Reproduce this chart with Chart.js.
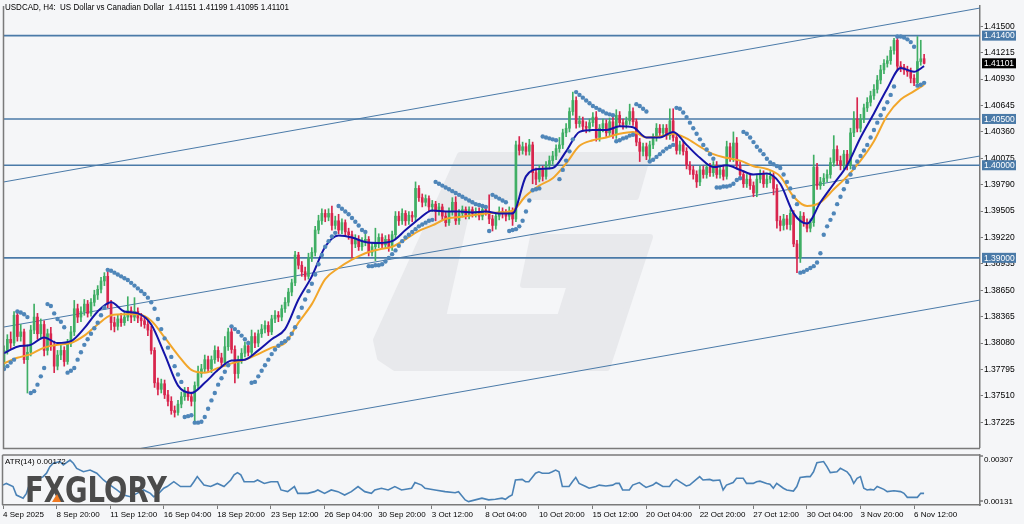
<!DOCTYPE html>
<html>
<head>
<meta charset="utf-8">
<script src="https://cdn.jsdelivr.net/npm/chart.js@4.4.0/dist/chart.umd.min.js"></script>
<style>
  html, body { margin: 0; padding: 0; background: #f5f6f8; }
  #wrap { position: relative; width: 1024px; height: 524px; overflow: hidden; }
  #main { position: absolute; left: 0; top: 0; }
  #atr { position: absolute; left: 0; top: 454px; }
</style>
</head>
<body>
<div id="wrap">
  <canvas id="main" width="1024" height="454" style="width:1024px;height:454px"></canvas>
  <canvas id="atr" width="1024" height="70" style="width:1024px;height:70px"></canvas>
</div>
<script>
// USDCAD H4 candles, 4 Sep - 6 Nov 2025
const opens = [
  1.3786,1.3800,1.3812,1.3808,1.3838,1.3815,1.3820,1.3790,1.3798,1.3822,
  1.3836,1.3818,1.3828,1.3800,1.3818,1.3805,1.3783,1.3795,1.3800,1.3788,
  1.3808,1.3820,1.3845,1.3836,1.3842,1.3850,1.3840,1.3852,1.3860,1.3866,
  1.3875,1.3880,1.3850,1.3830,1.3826,1.3834,1.3830,1.3836,1.3843,1.3836,
  1.3842,1.3835,1.3832,1.3828,1.3822,1.3800,1.3765,1.3758,1.3764,1.3752,
  1.3745,1.3735,1.3733,1.3742,1.3750,1.3756,1.3750,1.3745,1.3762,1.3775,
  1.3780,1.3790,1.3780,1.3790,1.3800,1.3792,1.3787,1.3804,1.3820,1.3801,
  1.3775,1.3790,1.3797,1.3805,1.3798,1.3815,1.3808,1.3818,1.3823,1.3827,
  1.3820,1.3834,1.3838,1.3836,1.3845,1.3852,1.3863,1.3873,1.3903,1.3892,
  1.3885,1.3880,1.3900,1.3906,1.3930,1.3940,1.3948,1.3944,1.3948,1.3935,
  1.3940,1.3930,1.3938,1.3928,1.3925,1.3915,1.3920,1.3912,1.3918,1.3920,
  1.3906,1.3912,1.3915,1.3922,1.3914,1.3920,1.3912,1.3925,1.3945,1.3940,
  1.3948,1.3940,1.3946,1.3944,1.3975,1.3965,1.3960,1.3964,1.3955,1.3958,
  1.3950,1.3955,1.3945,1.3938,1.3950,1.3960,1.3940,1.3948,1.3952,1.3946,
  1.3952,1.3948,1.3950,1.3945,1.3952,1.3950,1.3942,1.3935,1.3945,1.3950,
  1.3948,1.3945,1.3950,1.3942,1.4022,1.4016,1.4020,1.4015,1.4022,1.3992,
  1.3985,1.3995,1.3988,1.4000,1.4005,1.4010,1.4018,1.4022,1.4035,1.4040,
  1.4058,1.4070,1.4045,1.4048,1.4042,1.4040,1.4046,1.4052,1.4030,1.4040,
  1.4045,1.4035,1.4047,1.4033,1.4054,1.4046,1.4044,1.4048,1.4058,1.4047,
  1.4025,1.4015,1.4020,1.4010,1.4022,1.4030,1.4040,1.4035,1.4040,1.4032,
  1.4048,1.4030,1.4016,1.4022,1.4015,1.4000,1.3995,1.3990,1.3982,1.3995,
  1.3990,1.3998,1.3992,1.4000,1.3990,1.3995,1.3988,1.4020,1.4008,1.4024,
  1.4000,1.3990,1.3980,1.3985,1.3978,1.3970,1.3985,1.3990,1.3980,1.3985,
  1.3988,1.3975,1.3940,1.3935,1.3942,1.3936,1.3948,1.3915,1.3900,1.3945,
  1.3938,1.3932,1.3938,1.3998,1.3978,1.3982,1.3986,1.3990,1.4003,1.4017,
  1.4005,1.4000,1.4012,1.4000,1.4035,1.4050,1.4040,1.4050,1.4062,1.4068,
  1.4075,1.4082,1.4092,1.4103,1.4110,1.4113,1.4124,1.4135,1.4107,1.4106,
  1.4103,1.4101,1.4094,1.4089,1.4112,1.41151
];
const highs = [
  1.3805,1.3817,1.3820,1.3842,1.3841,1.3828,1.3823,1.3806,1.3827,1.3850,
  1.3840,1.3834,1.3832,1.3823,1.3825,1.3810,1.3800,1.3806,1.3804,1.3812,
  1.3826,1.3854,1.3850,1.3847,1.3855,1.3854,1.3856,1.3865,1.3870,1.3879,
  1.3884,1.3887,1.3854,1.3836,1.3838,1.3840,1.3842,1.3858,1.3847,1.3857,
  1.3846,1.3840,1.3837,1.3832,1.3826,1.3803,1.3770,1.3769,1.3768,1.3757,
  1.3750,1.3740,1.3746,1.3755,1.3760,1.3760,1.3755,1.3766,1.3783,1.3785,
  1.3795,1.3794,1.3794,1.3805,1.3804,1.3797,1.3815,1.3824,1.3824,1.3805,
  1.3794,1.3802,1.3809,1.3810,1.3822,1.3819,1.3822,1.3828,1.3832,1.3831,
  1.3838,1.3843,1.3842,1.3849,1.3857,1.3867,1.3877,1.3907,1.3906,1.3896,
  1.3890,1.3905,1.3911,1.3934,1.3946,1.3953,1.3952,1.3953,1.3956,1.3945,
  1.3947,1.3942,1.3941,1.3932,1.3929,1.3925,1.3924,1.3922,1.3926,1.3923,
  1.3916,1.3932,1.3926,1.3926,1.3924,1.3925,1.3929,1.3950,1.3950,1.3953,
  1.3951,1.3950,1.3950,1.3982,1.3978,1.3969,1.3968,1.3967,1.3962,1.3961,
  1.3959,1.3958,1.3949,1.3954,1.3965,1.3966,1.3952,1.3956,1.3955,1.3955,
  1.3955,1.3954,1.3954,1.3954,1.3954,1.3968,1.3946,1.3949,1.3955,1.3954,
  1.3952,1.3955,1.3954,1.4026,1.4031,1.4025,1.4024,1.4028,1.4025,1.3997,
  1.4000,1.3999,1.4004,1.4010,1.4015,1.4022,1.4030,1.4039,1.4045,1.4062,
  1.4079,1.4074,1.4053,1.4052,1.4047,1.4050,1.4057,1.4058,1.4044,1.4050,
  1.4049,1.4051,1.4052,1.4060,1.4058,1.4050,1.4052,1.4066,1.4062,1.4050,
  1.4029,1.4024,1.4024,1.4026,1.4034,1.4045,1.4044,1.4044,1.4044,1.4061,
  1.4061,1.4034,1.4026,1.4026,1.4019,1.4004,1.3999,1.3994,1.3999,1.3999,
  1.4002,1.4002,1.4004,1.4004,1.3999,1.3999,1.4026,1.4024,1.4036,1.4030,
  1.4004,1.3994,1.3990,1.3989,1.3982,1.3989,1.3995,1.3994,1.3990,1.3993,
  1.3992,1.3979,1.3945,1.3947,1.3946,1.3952,1.3951,1.3919,1.3950,1.3949,
  1.3942,1.3942,1.4011,1.4002,1.3987,1.3991,1.3995,1.4008,1.4032,1.4021,
  1.4010,1.4016,1.4016,1.4040,1.4058,1.4073,1.4055,1.4066,1.4073,1.4080,
  1.4087,1.4097,1.4108,1.4114,1.4118,1.4128,1.4137,1.4139,1.4112,1.4109,
  1.4107,1.4105,1.4098,1.4139,1.4135,1.41199
];
const lows = [
  1.3782,1.3796,1.3802,1.3805,1.3810,1.3810,1.3786,1.3754,1.3794,1.3818,
  1.3812,1.3813,1.3794,1.3795,1.3800,1.3776,1.3779,1.3790,1.3783,1.3785,
  1.3804,1.3816,1.3830,1.3831,1.3838,1.3836,1.3837,1.3848,1.3855,1.3862,
  1.3870,1.3846,1.3822,1.3820,1.3822,1.3826,1.3827,1.3832,1.3830,1.3832,
  1.3830,1.3826,1.3824,1.3816,1.3796,1.3760,1.3752,1.3754,1.3748,1.3740,
  1.3731,1.3728,1.3730,1.3738,1.3746,1.3746,1.3740,1.3722,1.3758,1.3771,
  1.3776,1.3776,1.3776,1.3786,1.3788,1.3783,1.3783,1.3800,1.3797,1.3765,
  1.3770,1.3786,1.3793,1.3794,1.3795,1.3803,1.3804,1.3814,1.3819,1.3816,
  1.3817,1.3830,1.3831,1.3832,1.3841,1.3848,1.3859,1.3870,1.3888,1.3880,
  1.3876,1.3877,1.3896,1.3902,1.3926,1.3936,1.3939,1.3940,1.3930,1.3931,
  1.3926,1.3926,1.3923,1.3920,1.3900,1.3911,1.3908,1.3908,1.3913,1.3902,
  1.3902,1.3897,1.3911,1.3910,1.3910,1.3907,1.3908,1.3921,1.3935,1.3936,
  1.3935,1.3936,1.3939,1.3940,1.3961,1.3955,1.3956,1.3951,1.3950,1.3940,
  1.3946,1.3940,1.3934,1.3935,1.3946,1.3936,1.3936,1.3944,1.3942,1.3942,
  1.3944,1.3944,1.3941,1.3941,1.3946,1.3937,1.3929,1.3931,1.3941,1.3943,
  1.3940,1.3941,1.3935,1.3939,1.4011,1.4012,1.4011,1.4011,1.3980,1.3979,
  1.3982,1.3983,1.3985,1.3996,1.4001,1.4006,1.4014,1.4018,1.4031,1.4036,
  1.4054,1.4040,1.4041,1.4038,1.4035,1.4036,1.4042,1.4026,1.4026,1.4036,
  1.4031,1.4031,1.4029,1.4029,1.4042,1.4039,1.4040,1.4044,1.4043,1.4021,
  1.4004,1.4010,1.4006,1.4006,1.4018,1.4026,1.4031,1.4031,1.4028,1.4028,
  1.4026,1.4012,1.4012,1.4011,1.3996,1.3990,1.3985,1.3976,1.3978,1.3986,
  1.3986,1.3988,1.3988,1.3986,1.3986,1.3984,1.3985,1.4004,1.4004,1.3996,
  1.3985,1.3976,1.3976,1.3974,1.3966,1.3966,1.3981,1.3976,1.3976,1.3981,
  1.3968,1.3932,1.3929,1.3930,1.3931,1.3930,1.3912,1.3884,1.3895,1.3934,
  1.3928,1.3928,1.3934,1.3974,1.3974,1.3978,1.3982,1.3986,1.3999,1.4000,
  1.3995,1.3996,1.3995,1.3996,1.4031,1.4036,1.4036,1.4046,1.4058,1.4064,
  1.4071,1.4078,1.4088,1.4099,1.4106,1.4109,1.4120,1.4103,1.4101,1.4098,
  1.4096,1.4089,1.4086,1.4086,1.4108,1.41095
];
const closes = [
  1.3800,1.3812,1.3808,1.3838,1.3815,1.3820,1.3790,1.3798,1.3822,1.3836,
  1.3818,1.3828,1.3800,1.3818,1.3805,1.3783,1.3795,1.3800,1.3788,1.3808,
  1.3820,1.3845,1.3836,1.3842,1.3850,1.3840,1.3852,1.3860,1.3866,1.3875,
  1.3880,1.3850,1.3830,1.3826,1.3834,1.3830,1.3836,1.3843,1.3836,1.3842,
  1.3835,1.3832,1.3828,1.3822,1.3800,1.3765,1.3758,1.3764,1.3752,1.3745,
  1.3735,1.3733,1.3742,1.3750,1.3756,1.3750,1.3745,1.3762,1.3775,1.3780,
  1.3790,1.3780,1.3790,1.3800,1.3792,1.3787,1.3804,1.3820,1.3801,1.3775,
  1.3790,1.3797,1.3805,1.3798,1.3815,1.3808,1.3818,1.3823,1.3827,1.3820,
  1.3834,1.3838,1.3836,1.3845,1.3852,1.3863,1.3873,1.3903,1.3892,1.3885,
  1.3880,1.3900,1.3906,1.3930,1.3940,1.3948,1.3944,1.3948,1.3935,1.3940,
  1.3930,1.3938,1.3928,1.3925,1.3915,1.3920,1.3912,1.3918,1.3920,1.3906,
  1.3912,1.3915,1.3922,1.3914,1.3920,1.3912,1.3925,1.3945,1.3940,1.3948,
  1.3940,1.3946,1.3944,1.3975,1.3965,1.3960,1.3964,1.3955,1.3958,1.3950,
  1.3955,1.3945,1.3938,1.3950,1.3960,1.3940,1.3948,1.3952,1.3946,1.3952,
  1.3948,1.3950,1.3945,1.3952,1.3950,1.3942,1.3935,1.3945,1.3950,1.3948,
  1.3945,1.3950,1.3942,1.4022,1.4016,1.4020,1.4015,1.4022,1.3992,1.3985,
  1.3995,1.3988,1.4000,1.4005,1.4010,1.4018,1.4022,1.4035,1.4040,1.4058,
  1.4070,1.4045,1.4048,1.4042,1.4040,1.4046,1.4052,1.4030,1.4040,1.4045,
  1.4035,1.4047,1.4033,1.4054,1.4046,1.4044,1.4048,1.4058,1.4047,1.4025,
  1.4015,1.4020,1.4010,1.4022,1.4030,1.4040,1.4035,1.4040,1.4032,1.4048,
  1.4030,1.4016,1.4022,1.4015,1.4000,1.3995,1.3990,1.3982,1.3995,1.3990,
  1.3998,1.3992,1.4000,1.3990,1.3995,1.3988,1.4020,1.4008,1.4024,1.4000,
  1.3990,1.3980,1.3985,1.3978,1.3970,1.3985,1.3990,1.3980,1.3985,1.3988,
  1.3975,1.3940,1.3935,1.3942,1.3936,1.3948,1.3915,1.3900,1.3945,1.3938,
  1.3932,1.3938,1.3998,1.3978,1.3982,1.3986,1.3990,1.4003,1.4017,1.4005,
  1.4000,1.4012,1.4000,1.4035,1.4050,1.4040,1.4050,1.4062,1.4068,1.4075,
  1.4082,1.4092,1.4103,1.4110,1.4113,1.4124,1.4135,1.4107,1.4106,1.4103,
  1.4101,1.4094,1.4089,1.4112,1.4115,1.41101
];

// moving averages, read every 4th bar
const maBars = [0,4,8,12,16,20,24,28,32,36,40,44,48,52,56,60,64,68,72,76,80,84,88,92,96,100,
  104,108,112,116,120,124,128,132,136,140,144,148,152,156,160,164,168,172,176,180,184,188,192,196,
  200,204,208,212,216,220,224,228,232,236,240,244,248,252,256,260,264,268,272,275];
const maFast = [1.3797,1.3804,1.3806,1.3814,1.3808,1.3810,1.3824,1.3842,1.3852,1.3842,1.3840,1.3828,
  1.3796,1.3762,1.3754,1.3765,1.3779,1.3789,1.3790,1.3800,1.3812,1.3823,1.3855,1.3880,1.3912,1.3924,
  1.3922,1.3917,1.3916,1.3918,1.3930,1.3942,1.3951,1.3950,1.3950,1.3949,1.3950,1.3948,1.3948,1.3988,
  1.3996,1.3997,1.4015,1.4036,1.4038,1.4038,1.4042,1.4041,1.4030,1.4030,1.4036,1.4022,1.4008,1.3998,
  1.4000,1.3995,1.3990,1.3991,1.3980,1.3948,1.3937,1.3960,1.3980,1.4000,1.4030,1.4056,1.4083,1.4105,
  1.4101,1.4107];
const maSlow = [1.3786,1.3792,1.3796,1.3803,1.3806,1.3808,1.3816,1.3828,1.3838,1.3839,1.3839,1.3832,
  1.3814,1.3795,1.3779,1.3776,1.3781,1.3786,1.3790,1.3796,1.3803,1.3808,1.3830,1.3850,1.3877,1.3889,
  1.3898,1.3905,1.3909,1.3912,1.3920,1.3929,1.3935,1.3942,1.3944,1.3946,1.3948,1.3949,1.3951,1.3967,
  1.3978,1.3986,1.4002,1.4021,1.4027,1.4030,1.4034,1.4036,1.4030,1.4031,1.4034,1.4029,1.4020,1.4012,
  1.4008,1.4005,1.3999,1.3996,1.3988,1.3966,1.3956,1.3960,1.3974,1.3988,1.4005,1.4026,1.4054,1.4071,
  1.4080,1.4087];

// parabolic SAR, one per bar
const sar = [
  1.3780,1.3783,1.3787,1.3790,1.3842,1.3841,1.3839,1.3836,1.3754,1.3756,
  1.3763,1.3772,1.3781,1.3850,1.3848,1.3840,1.3834,1.3831,1.3825,1.3776,
  1.3778,1.3781,1.3790,1.3798,1.3806,1.3812,1.3818,1.3824,1.3830,1.3838,
  1.3846,1.3887,1.3886,1.3884,1.3882,1.3880,1.3878,1.3876,1.3873,1.3870,
  1.3867,1.3864,1.3861,1.3857,1.3852,1.3845,1.3834,1.3823,1.3813,1.3803,
  1.3793,1.3783,1.3774,1.3766,1.3728,1.3729,1.3730,1.3722,1.3722,1.3723,
  1.3728,1.3737,1.3746,1.3754,1.3763,1.3770,1.3777,1.3784,1.3826,1.3823,
  1.3820,1.3816,1.3812,1.3808,1.3765,1.3766,1.3772,1.3778,1.3784,1.3790,
  1.3796,1.3801,1.3805,1.3808,1.3810,1.3813,1.3818,1.3825,1.3836,1.3846,
  1.3855,1.3864,1.3872,1.3882,1.3893,1.3903,1.3912,1.3918,1.3923,1.3927,
  1.3956,1.3953,1.3950,1.3947,1.3943,1.3939,1.3935,1.3930,1.3928,1.3891,
  1.3891,1.3892,1.3892,1.3893,1.3896,1.3900,1.3904,1.3908,1.3913,1.3918,
  1.3922,1.3925,1.3928,1.3931,1.3934,1.3936,1.3938,1.3940,1.3941,1.3982,
  1.3980,1.3978,1.3976,1.3974,1.3972,1.3970,1.3968,1.3966,1.3964,1.3962,
  1.3960,1.3958,1.3957,1.3956,1.3955,1.3929,1.3968,1.3966,1.3964,1.3962,
  1.3960,1.3929,1.3930,1.3931,1.3934,1.3940,1.3950,1.3962,1.3973,1.3974,
  1.3975,1.4031,1.4030,1.4029,1.4028,1.4027,1.3985,1.3995,1.4005,1.4015,
  1.4028,1.4079,1.4076,1.4073,1.4070,1.4067,1.4064,1.4062,1.4060,1.4058,
  1.4056,1.4055,1.4054,1.4026,1.4027,1.4029,1.4030,1.4032,1.4033,1.4066,
  1.4064,1.4061,1.4058,1.4004,1.4006,1.4009,1.4012,1.4015,1.4018,1.4020,
  1.4022,1.4062,1.4061,1.4057,1.4052,1.4046,1.4040,1.4034,1.4028,1.4022,
  1.4017,1.4012,1.4007,1.3976,1.3976,1.3977,1.3977,1.3978,1.3980,1.3984,
  1.3986,1.4036,1.4034,1.4030,1.4025,1.4020,1.4016,1.4012,1.4007,1.4003,
  1.4001,1.3999,1.3997,1.3990,1.3982,1.3975,1.3966,1.3958,1.3884,1.3885,
  1.3887,1.3889,1.3891,1.3895,1.3905,1.3925,1.3934,1.3941,1.3948,1.3958,
  1.3966,1.3974,1.3982,1.3990,1.3997,1.4004,1.4010,1.4016,1.4022,1.4030,
  1.4038,1.4046,1.4054,1.4061,1.4068,1.4076,1.4085,1.4139,1.4139,1.4138,
  1.4136,1.4133,1.4128,1.4086,1.4087,1.4089
];

// ATR(14)
const atrBars = [0,1,3,4,6,7,8,9,10,12,13,14,15,17,18,20,21,22,24,26,28,30,32,34,36,38,40,42,44,45,
  46,48,49,51,53,56,57,58,60,62,64,66,68,69,70,71,72,75,76,78,80,82,83,85,87,88,91,93,94,96,
  98,100,102,104,106,108,110,111,113,115,117,119,122,123,125,126,129,132,135,136,138,139,141,143,145,147,149,150,151,152,
  153,155,156,157,159,160,161,163,164,165,166,167,169,170,171,172,174,175,177,178,180,182,183,184,185,187,188,190,191,192,
  194,195,197,199,200,201,202,204,205,207,208,209,211,212,214,215,216,218,219,221,222,224,225,226,228,229,230,231,233,234,
  236,237,238,240,241,242,243,245,246,247,249,250,252,253,254,255,256,257,258,259,260,261,263,264,266,268,269,270,273,274,275];
const atrValues = [0.00201,0.00207,0.00196,0.00166,0.00155,0.00172,0.00207,0.00225,0.00219,0.00231,0.00243,0.00266,0.00278,0.00284,0.00272,0.00289,0.00278,0.00260,0.00248,0.00254,0.00243,0.00219,0.00201,0.00184,0.00166,0.00160,0.00172,0.00184,0.00172,0.00160,
  0.00166,0.00190,0.00196,0.00213,0.00196,0.00196,0.00213,0.00231,0.00201,0.00196,0.00207,0.00196,0.00219,0.00237,0.00245,0.00237,0.00213,0.00213,0.00219,0.00207,0.00213,0.00213,0.00184,0.00178,0.00196,0.00172,0.00172,0.00178,0.00184,0.00172,
  0.00184,0.00178,0.00166,0.00178,0.00196,0.00178,0.00172,0.00184,0.00190,0.00184,0.00196,0.00184,0.00190,0.00210,0.00201,0.00190,0.00184,0.00178,0.00174,0.00178,0.00149,0.00143,0.00149,0.00155,0.00149,0.00151,0.00155,0.00151,0.00160,0.00166,
  0.00219,0.00221,0.00213,0.00213,0.00243,0.00248,0.00243,0.00243,0.00248,0.00254,0.00248,0.00196,0.00196,0.00213,0.00228,0.00207,0.00196,0.00190,0.00196,0.00201,0.00198,0.00201,0.00207,0.00207,0.00184,0.00184,0.00201,0.00210,0.00201,0.00193,
  0.00201,0.00210,0.00196,0.00196,0.00213,0.00221,0.00213,0.00198,0.00201,0.00221,0.00231,0.00219,0.00221,0.00217,0.00219,0.00184,0.00201,0.00210,0.00225,0.00225,0.00207,0.00207,0.00213,0.00215,0.00207,0.00204,0.00190,0.00207,0.00190,0.00184,
  0.00180,0.00196,0.00228,0.00231,0.00231,0.00248,0.00280,0.00284,0.00266,0.00245,0.00248,0.00260,0.00248,0.00233,0.00207,0.00225,0.00231,0.00190,0.00184,0.00186,0.00184,0.00196,0.00186,0.00178,0.00181,0.00178,0.00172,0.00158,0.00158,0.00172,0.00172];

// horizontal levels and channel lines
const levels = [1.41400, 1.40500, 1.40000, 1.39000];
const channelBars = [0, 291.7];
const channelUpper = [1.39820, 1.41698];
const channelMid = [1.38253, 1.40100];
const channelLow = [1.36680, 1.38544];

// axis ticks
const priceTicks = [1.41500,1.41215,1.40930,1.40645,1.40360,1.40075,1.39790,1.39505,1.39220,
  1.38935,1.38650,1.38365,1.38080,1.37795,1.37510,1.37225];
const timeBars = [0,16,32,48,64,80,96,112,128,144,160,176,192,208,224,240,256,272];
const timeLabels = ['4 Sep 2025','8 Sep 20:00','11 Sep 12:00','16 Sep 04:00','18 Sep 20:00',
  '23 Sep 12:00','26 Sep 04:00','30 Sep 20:00','3 Oct 12:00','8 Oct 04:00','10 Oct 20:00',
  '15 Oct 12:00','20 Oct 04:00','22 Oct 20:00','27 Oct 12:00','30 Oct 04:00','3 Nov 20:00','6 Nov 12:00'];

const BG = '#f5f6f8';
const FRAME = '#7a7a7a';
const LVL = '#4a7aa8';
const UP = '#3fae64';
const DOWN = '#d8254d';
const FONT = "'Liberation Sans', Arial, sans-serif";

Chart.defaults.font.family = FONT;

const last = closes.length - 1;
const candleColor = ctx => closes[ctx.dataIndex] >= opens[ctx.dataIndex] ? UP : DOWN;

const lineOf = (bars, vals, color, width, order) => ({
  type: 'line',
  data: bars.map((b, k) => ({ x: b, y: vals[k] })),
  borderColor: color, borderWidth: width, pointRadius: 0, order: order
});

const bgPlugin = {
  id: 'bg',
  beforeDraw(chart) {
    const c = chart.ctx;
    c.save();
    c.fillStyle = BG;
    c.fillRect(0, 0, chart.width, chart.height);
    c.restore();
  }
};

// light "G" watermark behind the candles
const watermark = {
  id: 'watermark',
  beforeDatasetsDraw(chart) {
    const c = chart.ctx;
    const pts = [[460,155],[648,155],[636,197],[470,197],[443,317],[560,317],[570,285],[523,285],
      [533,237],[650,237],[607,368],[395,368],[380,358],[376,340]];
    c.save();
    c.fillStyle = '#e8e9ec';
    c.strokeStyle = '#e8e9ec';
    c.lineJoin = 'round';
    c.lineWidth = 6;
    c.beginPath();
    pts.forEach((p, k) => k ? c.lineTo(p[0], p[1]) : c.moveTo(p[0], p[1]));
    c.closePath();
    c.fill();
    c.stroke();
    c.restore();
  }
};

const mainOverlay = {
  id: 'mainOverlay',
  afterDraw(chart) {
    const c = chart.ctx;
    const a = chart.chartArea;
    const y = chart.scales.y;
    c.save();
    c.strokeStyle = FRAME;
    c.lineWidth = 1.5;
    c.beginPath();
    c.moveTo(a.left - 0.5, a.top);
    c.lineTo(a.left - 0.5, a.bottom + 0.5);
    c.lineTo(a.right, a.bottom + 0.5);
    c.stroke();

    c.font = '8.5px ' + FONT;
    c.textBaseline = 'middle';
    c.fillStyle = '#000';
    const title = 'USDCAD, H4:  US Dollar vs Canadian Dollar  ' +
      [opens[last], highs[last], lows[last], closes[last]].map(v => v.toFixed(5)).join(' ');
    c.fillText(title, 5, 8, 284);

    levels.forEach(v => {
      const py = y.getPixelForValue(v);
      c.fillStyle = LVL;
      c.fillRect(982, py - 5, 34, 10);
      c.fillStyle = '#fff';
      c.fillText(v.toFixed(5), 984, py + 0.5);
    });
    const pl = y.getPixelForValue(closes[last]);
    c.fillStyle = '#000';
    c.fillRect(982, pl - 5, 34, 10);
    c.fillStyle = '#fff';
    c.fillText(closes[last].toFixed(5), 984, pl + 0.5);
    c.restore();
  }
};

new Chart(document.getElementById('main'), {
  type: 'bar',
  data: {
    datasets: [
      ...levels.map(v => lineOf(channelBars, [v, v], LVL, 1.6, 20)),
      lineOf(channelBars, channelUpper, LVL, 1, 20),
      lineOf(channelBars, channelMid, LVL, 1, 20),
      lineOf(channelBars, channelLow, LVL, 1, 20),
      {
        type: 'bar',
        data: highs.map((h, i) => ({ x: i, y: [lows[i], h] })),
        backgroundColor: candleColor, barThickness: 1, grouped: false, order: 8
      },
      {
        type: 'bar',
        data: opens.map((o, i) => ({ x: i, y: [o, closes[i]] })),
        backgroundColor: candleColor, barThickness: 2, minBarLength: 1, grouped: false, order: 7
      },
      Object.assign(lineOf(maBars, maSlow, '#f2a62a', 2, 5), { cubicInterpolationMode: 'monotone' }),
      Object.assign(lineOf(maBars, maFast, '#1414a8', 2, 4), { cubicInterpolationMode: 'monotone' }),
      {
        type: 'line',
        data: sar.map((v, i) => ({ x: i, y: v })),
        showLine: false, pointRadius: 2.2, pointBorderWidth: 0,
        pointBackgroundColor: '#4f86b9', order: 2
      }
    ]
  },
  options: {
    responsive: false,
    animation: false,
    layout: { padding: { left: 3, top: 2, right: 0, bottom: 1 } },
    plugins: { legend: { display: false }, tooltip: { enabled: false } },
    scales: {
      x: { type: 'linear', min: 0, max: 291.7, display: false, offset: false },
      y: {
        position: 'right', min: 1.36947, max: 1.41719,
        afterBuildTicks: s => { s.ticks = priceTicks.map(v => ({ value: v })); },
        afterFit: s => { s.width = 44; },
        grid: { drawOnChartArea: false, tickLength: 3, color: FRAME },
        border: { color: FRAME, width: 1.5 },
        ticks: {
          autoSkip: false, padding: 1, color: '#000',
          font: { size: 8.5 }, callback: v => v.toFixed(5)
        }
      }
    }
  },
  plugins: [bgPlugin, watermark, mainOverlay]
});

const atrOverlay = {
  id: 'atrOverlay',
  afterDatasetsDraw(chart) {
    const c = chart.ctx;
    const a = chart.chartArea;
    c.save();
    // logo
    c.fillStyle = '#4b4b4b';
    c.font = "bold 36px 'DejaVu Sans', sans-serif";
    c.textBaseline = 'alphabetic';
    c.fillText('FXGLORY', 25, 48, 142);
    c.fillStyle = '#f07a22';
    c.beginPath();
    c.moveTo(52, 48);
    c.lineTo(57, 40);
    c.lineTo(61, 48);
    c.closePath();
    c.fill();

    c.fillStyle = '#000';
    c.font = '8px ' + FONT;
    c.textBaseline = 'middle';
    const atrLast = atrValues[atrValues.length - 1];
    c.fillText('ATR(14) ' + atrLast.toFixed(5), 5, 8);
    c.fillText('0.00307', 984, 6);
    c.fillText('0.00131', 984, 48);

    c.strokeStyle = FRAME;
    c.lineWidth = 1.5;
    c.beginPath();
    c.moveTo(a.left - 0.5, a.top);
    c.lineTo(a.left - 0.5, a.bottom);
    c.moveTo(a.left - 0.5, a.top);
    c.lineTo(a.right, a.top);
    c.moveTo(a.right, a.top + 1);
    c.lineTo(a.right + 3, a.top + 1);
    c.moveTo(a.right, a.bottom - 4);
    c.lineTo(a.right + 3, a.bottom - 4);
    c.stroke();
    c.restore();
  }
};

new Chart(document.getElementById('atr'), {
  type: 'line',
  data: {
    datasets: [{
      data: atrBars.map((b, k) => ({ x: b, y: atrValues[k] })),
      borderColor: '#4a82b6', borderWidth: 1.6, pointRadius: 0
    }]
  },
  options: {
    responsive: false,
    animation: false,
    layout: { padding: { left: 3, top: 1, right: 0, bottom: 0 } },
    plugins: { legend: { display: false }, tooltip: { enabled: false } },
    scales: {
      x: {
        type: 'linear', min: 0, max: 291.7, offset: false,
        afterBuildTicks: s => { s.ticks = timeBars.map(v => ({ value: v })); },
        afterFit: s => { s.height = 19; },
        grid: { drawOnChartArea: false, tickLength: 4, color: FRAME },
        border: { color: FRAME, width: 1.5 },
        ticks: {
          align: 'start', padding: 1, autoSkip: false, maxRotation: 0, color: '#000',
          font: { size: 8 }, callback: (v, k) => timeLabels[k]
        }
      },
      y: {
        position: 'right', min: 0.00131, max: 0.00307,
        afterFit: s => { s.width = 44; },
        ticks: { display: false },
        grid: { display: false },
        border: { color: FRAME, width: 1.5 }
      }
    }
  },
  plugins: [bgPlugin, atrOverlay]
});
</script>
</body>
</html>
